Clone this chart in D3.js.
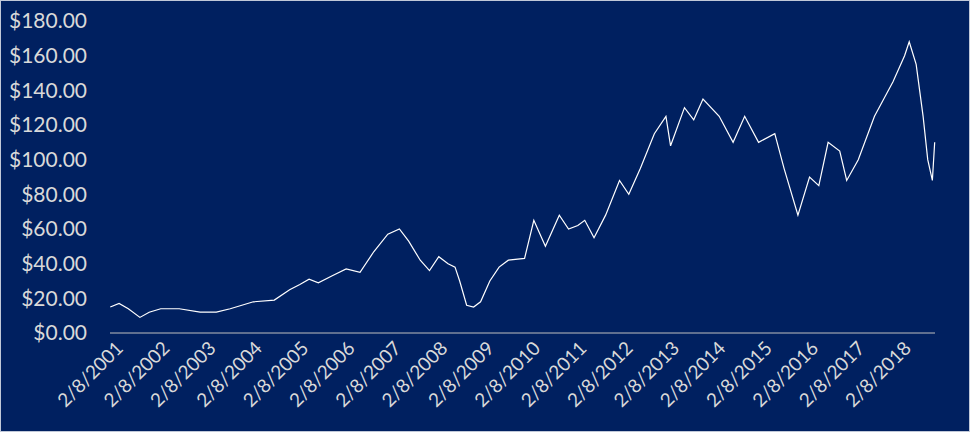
<!DOCTYPE html>
<html><head><meta charset="utf-8">
<script src="https://cdn.jsdelivr.net/npm/d3@7"></script>
<style>body{margin:0;background:#002060}svg{display:block}</style>
</head><body>
<svg id="c" width="970" height="432"></svg>
<script>
// approximate price path (year fraction, price)
var years = [2001.11,2001.3,2001.5,2001.75,2001.95,2002.2,2002.6,2003.05,2003.4,2003.7,2004.2,2004.65,2004.98,2005.2,2005.4,2005.6,2005.9,2006.2,2006.5,2006.8,2007.1,2007.35,2007.55,2007.8,2008.0,2008.2,2008.4,2008.55,2008.65,2008.8,2008.95,2009.1,2009.3,2009.5,2009.7,2010.05,2010.25,2010.5,2010.8,2011.0,2011.2,2011.35,2011.55,2011.8,2012.1,2012.3,2012.55,2012.85,2013.1,2013.2,2013.5,2013.7,2013.9,2014.25,2014.55,2014.8,2015.1,2015.45,2015.65,2015.95,2016.2,2016.4,2016.6,2016.85,2017.0,2017.25,2017.6,2017.8,2018.0,2018.25,2018.35,2018.5,2018.65,2018.75,2018.85,2018.9];
var prices = [15,17,14,9,12,14,14,12,12,14,18,19,25,28,31,29,33,37,35,47,57,60,53,42,36,44,40,38,30,16,15,18,30,38,42,43,65,50,68,60,62,65,55,68,88,80,95,115,125,108,130,123,135,125,110,125,110,115,95,68,90,85,110,105,88,100,125,135,145,160,168,155,125,100,88,110];
var yTicks = [0,20,40,60,80,100,120,140,160,180];
var tickYears = d3.range(2001, 2019);

function toDate(y) {
  var yr = Math.floor(y), start = new Date(yr, 0, 1), end = new Date(yr + 1, 0, 1);
  return new Date(+start + (y - yr) * (end - start));
}

var svg = d3.select('#c');
var m = {l: 110, r: 935, t: 21, b: 333};
var x = d3.scaleTime().domain([new Date(2001, 1, 8), new Date(2018, 10, 28)]).range([m.l, m.r]);
var y = d3.scaleLinear().domain([0, 180]).range([m.b, m.t]);

svg.append('rect').attr('x', 0.5).attr('y', 0.5).attr('width', 969).attr('height', 431)
  .attr('fill', '#002060').attr('stroke', '#c0c8d8');

var fmt = d3.format(',.2f');
svg.selectAll('.yl').data(yTicks).enter().append('text')
  .attr('x', 87).attr('y', function(d) { return y(d); }).attr('dy', '0.35em')
  .attr('text-anchor', 'end').attr('fill', '#d9d9d9')
  .style('font', '21px Lato, sans-serif')
  .text(function(d) { return '$' + fmt(d); });

svg.append('line').attr('x1', m.l).attr('x2', m.r).attr('y1', m.b).attr('y2', m.b)
  .attr('stroke', '#bfbfbf').attr('stroke-width', 1);

svg.selectAll('.xl').data(tickYears).enter().append('text')
  .attr('transform', function(d) { return 'translate(' + (x(new Date(d, 1, 8)) + 5) + ',' + (m.b + 7) + ') rotate(-45)'; })
  .attr('text-anchor', 'end').attr('dy', '0.7em').attr('fill', '#d9d9d9')
  .style('font', '19px Lato, sans-serif')
  .text(function(d) { return '2/8/' + d; });

var line = d3.line()
  .x(function(d, i) { return x(toDate(years[i])); })
  .y(function(d) { return y(d); });

svg.append('path').datum(prices).attr('d', line)
  .attr('fill', 'none').attr('stroke', '#ffffff').attr('stroke-width', 1.2);
</script>
</body></html>
